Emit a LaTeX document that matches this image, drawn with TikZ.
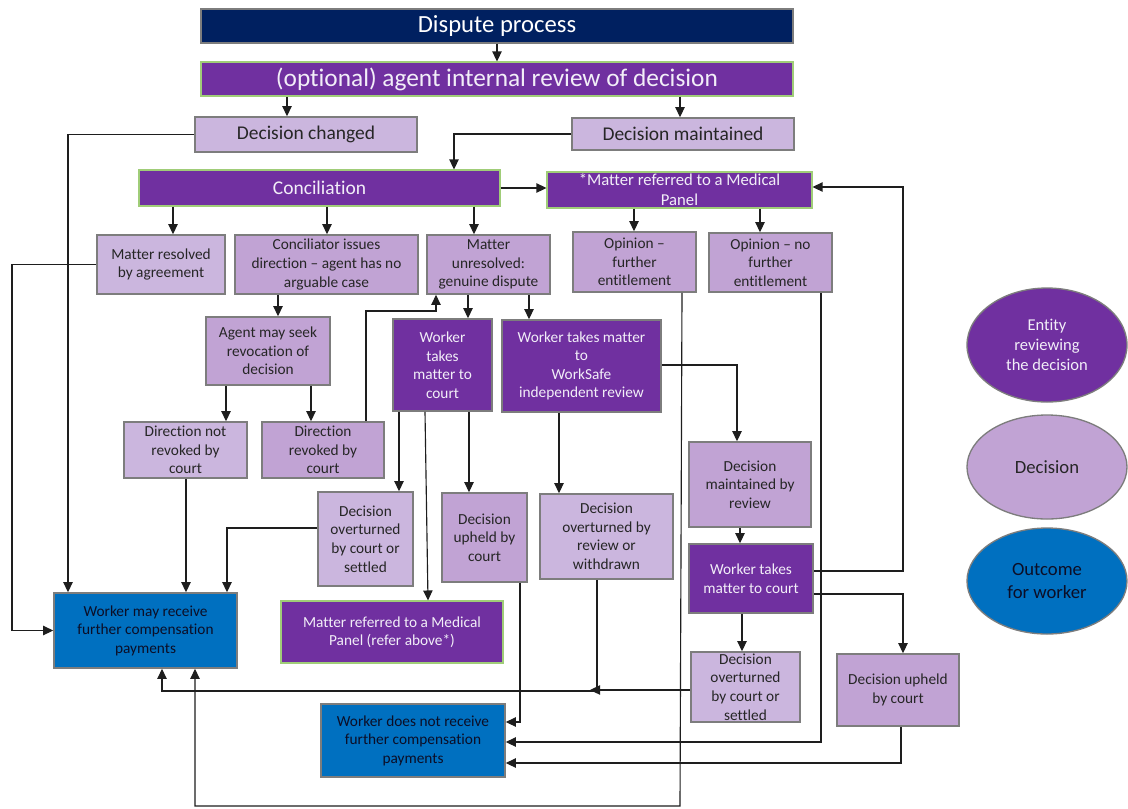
\documentclass[tikz,border=0pt]{standalone}
\usepackage{fontspec}
\setmainfont{Carlito}[Ligatures=NoCommon]
\usetikzlibrary{arrows.meta,shapes.geometric}

\definecolor{navy}{RGB}{0,32,96}
\definecolor{violet}{RGB}{112,48,160}
\definecolor{lilacA}{RGB}{203,182,222}
\definecolor{lilacB}{RGB}{193,163,212}
\definecolor{outblue}{RGB}{0,112,192}
\definecolor{edgegray}{RGB}{125,125,125}
\definecolor{edgegreen}{RGB}{160,205,120}
\definecolor{inkdark}{RGB}{38,38,38}
\definecolor{inklight}{RGB}{242,238,248}
\definecolor{inkblue}{RGB}{12,14,38}
\definecolor{wire}{RGB}{30,30,30}

\tikzset{
  base/.style={rectangle, align=center, inner sep=1pt},
  header/.style={base, fill=navy, draw=edgegray, line width=1pt, text=white,
    font=\fontsize{18.5}{22}\selectfont},
  entity/.style={base, fill=violet, draw=edgegreen, line width=0.8pt, text=inklight,
    font=\fontsize{11.5}{13.9}\selectfont},
  entitybig/.style={entity, font=\fontsize{19}{22}\selectfont},
  entitymid/.style={entity, font=\fontsize{14.6}{17}\selectfont},
  entitypanel/.style={entity, font=\fontsize{12.5}{15}\selectfont},
  courtbox/.style={entity, draw=edgegray, line width=1.2pt},
  decA/.style={base, fill=lilacA, draw=edgegray, line width=1.2pt, text=inkdark,
    font=\fontsize{11.5}{13.9}\selectfont},
  decB/.style={decA, fill=lilacB},
  decAbig/.style={decA, font=\fontsize{14.6}{17}\selectfont},
  outcome/.style={base, fill=outblue, draw=edgegray, line width=1.2pt, text=inkblue,
    font=\fontsize{11.5}{13.9}\selectfont},
  keyshape/.style={ellipse, align=center, inner sep=0pt, draw=edgegray, line width=1pt,
    minimum width=160*0.75pt},
  arr/.style={draw=wire, line width=0.85pt, -{Triangle[length=7.5pt,width=7pt]}}
}

% box: name, centre x, centre y, width, height, style, text  (units: px)
\newcommand{\flowbox}[7]{%
  \node[#6, minimum width=#4*0.75pt, minimum height=#5*0.75pt] (#1) at (#2,#3) {#7};}

\begin{document}
\begin{tikzpicture}[x=0.75pt, y=-0.75pt]
\fill[white] (0,0) rectangle (1128,808);
\useasboundingbox (0,0) rectangle (1128,808);

% top row
\flowbox{dispute}{497}{26}{592}{34}{header}{Dispute process}
\flowbox{review}{497}{79}{592}{34}{entitybig}{(optional) agent internal review of decision}
\flowbox{changed}{306}{134.5}{222}{35}{decAbig}{Decision changed}
\flowbox{maintained}{683}{134}{222}{32}{decAbig}{Decision maintained}
\flowbox{concil}{319.5}{188}{361}{36}{entitymid}{Conciliation}
\flowbox{medpanel}{679.5}{190}{265}{36}{entitypanel}{*Matter referred to a Medical\\Panel}

% conciliation outcomes
\flowbox{resolved}{161}{264.5}{128}{59}{decA}{Matter resolved\\by agreement}
\flowbox{conciliator}{326.5}{264.5}{183}{59}{decB}{Conciliator issues\\direction – agent has no\\arguable case}
\flowbox{unresolved}{488.5}{264.5}{123}{59}{decB}{Matter\\unresolved:\\genuine dispute}
\flowbox{opfurther}{634.5}{262}{123}{60}{decB}{Opinion –\\further\\entitlement}
\flowbox{opnofurther}{770.5}{262.5}{123}{59}{decB}{Opinion – no\\further\\entitlement}

% middle rows
\flowbox{seek}{268}{351}{124}{68}{decB}{Agent may seek\\revocation of\\decision}
\flowbox{court1}{442.5}{365}{99}{92}{courtbox}{Worker\\takes\\matter to\\court}
\flowbox{worksafe}{581.5}{366}{159}{92}{courtbox}{Worker takes matter\\to\\WorkSafe\\independent review}
\flowbox{notrevoked}{185.5}{450}{123}{56}{decA}{Direction not\\revoked by\\court}
\flowbox{revoked}{323}{450}{122}{56}{decB}{Direction\\revoked by\\court}
\flowbox{overturned1}{365.5}{539}{95}{94}{decA}{Decision\\overturned\\by court or\\settled}
\flowbox{upheld1}{484.5}{537.5}{85}{89}{decB}{Decision\\upheld by\\court}
\flowbox{overreview}{606.5}{536.5}{133}{85}{decA}{Decision\\overturned by\\review or\\withdrawn}
\flowbox{maintreview}{750}{484.5}{122}{85}{decB}{Decision\\maintained by\\review}
\flowbox{court2}{751}{578.5}{124}{69}{courtbox}{Worker takes\\matter to court}
\flowbox{overturned2}{745.5}{687}{109}{70}{decA}{Decision\\overturned\\by court or\\settled}
\flowbox{upheld2}{898}{690}{122}{72}{decB}{Decision upheld\\by court}

% outcomes for the worker
\flowbox{mayreceive}{145.5}{630.5}{183}{75}{outcome}{Worker may receive\\further compensation\\payments}
\flowbox{medref}{392}{632}{222}{62}{entity}{Matter referred to a Medical\\Panel (refer above*)}
\flowbox{notreceive}{413}{740.5}{184}{73}{outcome}{Worker does not receive\\further compensation\\payments}

% key
\node[keyshape, fill=violet, text=inklight, minimum height=114*0.75pt,
  font=\fontsize{12.4}{15}\selectfont] (keyentity) at (1047,345) {Entity\\reviewing\\the decision};
\node[keyshape, fill=lilacB, text=inkdark, minimum height=104*0.75pt,
  font=\fontsize{14}{17}\selectfont] (keydecision) at (1047,467) {Decision};
\node[keyshape, fill=outblue, text=inkblue, minimum height=106*0.75pt,
  font=\fontsize{14}{17}\selectfont] (keyoutcome) at (1047,581) {Outcome\\for worker};

% connectors: top part
\draw[arr] (dispute) -- (review);
\draw[arr] (287,0 |- review.south) -- (287,0 |- changed.north);
\draw[arr] (680,0 |- review.south) -- (680,0 |- maintained.north);
\draw[arr] (maintained.west) -- (454,0 |- maintained.west) -- (454,0 |- concil.north);
\draw[arr] (changed.west) -- (68,0 |- changed.west) -- (68,0 |- mayreceive.north);
\draw[arr] (concil.east) -- (concil.east -| medpanel.west);
\draw[arr] (173,0 |- concil.south) -- (173,0 |- resolved.north);
\draw[arr] (327,0 |- concil.south) -- (327,0 |- conciliator.north);
\draw[arr] (474,0 |- concil.south) -- (474,0 |- unresolved.north);
\draw[arr] (634,0 |- medpanel.south) -- (634,0 |- opfurther.north);
\draw[arr] (760,0 |- medpanel.south) -- (760,0 |- opnofurther.north);

% conciliation branch
\draw[arr] (resolved.west) -- (12,0 |- resolved.west) -- (12,0 |- mayreceive.west) -- (mayreceive.west);
\draw[arr] (278,0 |- conciliator.south) -- (278,0 |- seek.north);
\draw[arr] (226,0 |- seek.south) -- (226,0 |- notrevoked.north);
\draw[arr] (311,0 |- seek.south) -- (311,0 |- revoked.north);
\draw[arr] (366,0 |- revoked.north) -- (366,311) -- (436,311) -- (436,0 |- unresolved.south);
\draw[arr] (186,0 |- notrevoked.south) -- (186,0 |- mayreceive.north);
\draw[arr] (overturned1.west |- 0,528) -- (227,528) -- (227,0 |- mayreceive.north);

% genuine dispute branch
\draw[arr] (468,0 |- unresolved.south) -- (468,0 |- court1.north);
\draw[arr] (529,0 |- unresolved.south) -- (529,0 |- worksafe.north);
\draw[arr] (399,0 |- court1.south) -- (399,0 |- overturned1.north);
\draw[arr] (469,0 |- court1.south) -- (469,0 |- upheld1.north);
\draw[arr] (425,0 |- court1.south) -- (428,0 |- medref.north);
\draw[arr] (559,0 |- worksafe.south) -- (559,0 |- overreview.north);
\draw[arr] (worksafe.east |- 0,365) -- (737,365) -- (737,0 |- maintreview.north);
\draw[arr] (740,0 |- maintreview.south) -- (740,0 |- court2.north);
\draw[arr] (742,0 |- court2.south) -- (742,0 |- overturned2.north);
\draw[arr] (court2.east |- 0,571) -- (903,571) -- (903,187) -- (medpanel.east |- 0,187);
\draw[arr] (court2.east |- 0,594) -- (903,594) -- (903,0 |- upheld2.north);

% paths to the final outcomes
\draw[arr] (901,0 |- upheld2.south) -- (901,763) -- (notreceive.east |- 0,763);
\draw[arr] (821,0 |- opnofurther.south) -- (821,742) -- (notreceive.east |- 0,742);
\draw[arr] (520,0 |- upheld1.south) -- (520,722) -- (notreceive.east |- 0,722);
\draw[arr] (682,0 |- opfurther.south) -- (680,806) -- (195,806) -- (195,0 |- mayreceive.south);
\draw[arr] (overturned2.west |- 0,690) -- (590,690);
\draw[arr] (597,0 |- overreview.south) -- (597,691) -- (162,691) -- (162,0 |- mayreceive.south);
\end{tikzpicture}
\end{document}
